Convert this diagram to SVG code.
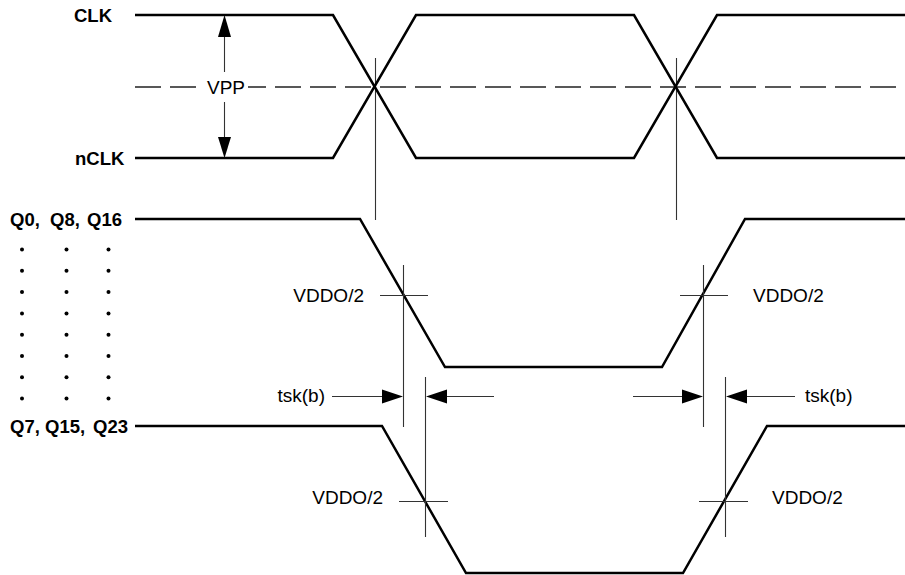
<svg xmlns="http://www.w3.org/2000/svg" width="905" height="575" viewBox="0 0 905 575">
<style>
.sig{fill:none;stroke:#000;stroke-width:2.5;stroke-linejoin:miter}
.thin{fill:none;stroke:#333;stroke-width:1.1}
.dash{fill:none;stroke:#222;stroke-width:1.3;stroke-dasharray:26 9}
.ah{fill:#000;stroke:none}
.lbl{font-family:"Liberation Sans",Arial,sans-serif;font-size:19px;fill:#000}
.blbl{font-family:"Liberation Sans",Arial,sans-serif;font-size:18.5px;font-weight:bold;fill:#000}
.dot{fill:#000}
</style>
<rect width="905" height="575" fill="#fff"/>
<g id="reference-lines">
<line class="dash" x1="135" y1="87" x2="905" y2="87"/>
<line class="thin" x1="375.5" y1="58" x2="375.5" y2="220"/>
<line class="thin" x1="676.5" y1="58" x2="676.5" y2="220"/>
</g>
<g id="clk">
<path class="sig" d="M135,15 H333 L416,158 H634 L717,15 H905"/>
<text class="blbl" x="74" y="22">CLK</text>
</g>
<g id="nclk">
<path class="sig" d="M135,158 H333 L416,15 H634 L717,158 H905"/>
<text class="blbl" x="75" y="165">nCLK</text>
</g>
<g id="vpp">
<line class="thin" x1="224.5" y1="36" x2="224.5" y2="138"/>
<polygon class="ah" points="224.5,15 218,37 231,37"/>
<polygon class="ah" points="224.5,158 218,137 231,137"/>
<rect x="198" y="72" width="50" height="30" fill="#fff"/>
<text class="lbl" x="226" y="94" text-anchor="middle">VPP</text>
</g>
<g id="q0">
<path class="sig" d="M135,219 H360 L445,367 H662 L745,219 H905"/>
<text class="blbl" x="10" y="226">Q0,</text>
<text class="blbl" x="50" y="226">Q8,</text>
<text class="blbl" x="87" y="226">Q16</text>
</g>
<g id="dots">
<circle class="dot" cx="22" cy="249.5" r="2"/><circle class="dot" cx="66.5" cy="249.5" r="2"/><circle class="dot" cx="108.5" cy="249.5" r="2"/>
<circle class="dot" cx="22" cy="270.8" r="2"/><circle class="dot" cx="66.5" cy="270.8" r="2"/><circle class="dot" cx="108.5" cy="270.8" r="2"/>
<circle class="dot" cx="22" cy="292.1" r="2"/><circle class="dot" cx="66.5" cy="292.1" r="2"/><circle class="dot" cx="108.5" cy="292.1" r="2"/>
<circle class="dot" cx="22" cy="313.4" r="2"/><circle class="dot" cx="66.5" cy="313.4" r="2"/><circle class="dot" cx="108.5" cy="313.4" r="2"/>
<circle class="dot" cx="22" cy="334.7" r="2"/><circle class="dot" cx="66.5" cy="334.7" r="2"/><circle class="dot" cx="108.5" cy="334.7" r="2"/>
<circle class="dot" cx="22" cy="356" r="2"/><circle class="dot" cx="66.5" cy="356" r="2"/><circle class="dot" cx="108.5" cy="356" r="2"/>
<circle class="dot" cx="22" cy="377.3" r="2"/><circle class="dot" cx="66.5" cy="377.3" r="2"/><circle class="dot" cx="108.5" cy="377.3" r="2"/>
<circle class="dot" cx="22" cy="398.6" r="2"/><circle class="dot" cx="66.5" cy="398.6" r="2"/><circle class="dot" cx="108.5" cy="398.6" r="2"/>
</g>
<g id="q7">
<path class="sig" d="M135,426 H382 L466,573 H683 L767,426 H905"/>
<text class="blbl" x="10" y="433">Q7,</text>
<text class="blbl" x="45" y="433">Q15,</text>
<text class="blbl" x="93" y="433">Q23</text>
</g>
<g id="crosses">
<line class="thin" x1="380" y1="295.5" x2="428" y2="295.5"/>
<line class="thin" x1="403.5" y1="265" x2="403.5" y2="427"/>
<line class="thin" x1="680" y1="295.5" x2="728" y2="295.5"/>
<line class="thin" x1="703.5" y1="265" x2="703.5" y2="427"/>
<line class="thin" x1="399" y1="501.5" x2="448" y2="501.5"/>
<line class="thin" x1="425.5" y1="377" x2="425.5" y2="537"/>
<line class="thin" x1="699" y1="501.5" x2="748" y2="501.5"/>
<line class="thin" x1="725.5" y1="377" x2="725.5" y2="537"/>
<text class="lbl" x="364" y="302" text-anchor="end">VDDO/2</text>
<text class="lbl" x="753" y="302">VDDO/2</text>
<text class="lbl" x="383" y="504" text-anchor="end">VDDO/2</text>
<text class="lbl" x="772" y="504">VDDO/2</text>
</g>
<g id="skew">
<line class="thin" x1="332" y1="396.5" x2="384" y2="396.5"/>
<polygon class="ah" points="403,396.5 382,389.5 382,403.5"/>
<line class="thin" x1="443" y1="396.5" x2="494" y2="396.5"/>
<polygon class="ah" points="426,396.5 447,389.5 447,403.5"/>
<line class="thin" x1="633" y1="396.5" x2="685" y2="396.5"/>
<polygon class="ah" points="703,396.5 682,389.5 682,403.5"/>
<line class="thin" x1="744" y1="396.5" x2="795" y2="396.5"/>
<polygon class="ah" points="726,396.5 747,389.5 747,403.5"/>
<text class="lbl" x="325" y="402" text-anchor="end">tsk(b)</text>
<text class="lbl" x="805" y="402">tsk(b)</text>
</g>
</svg>
